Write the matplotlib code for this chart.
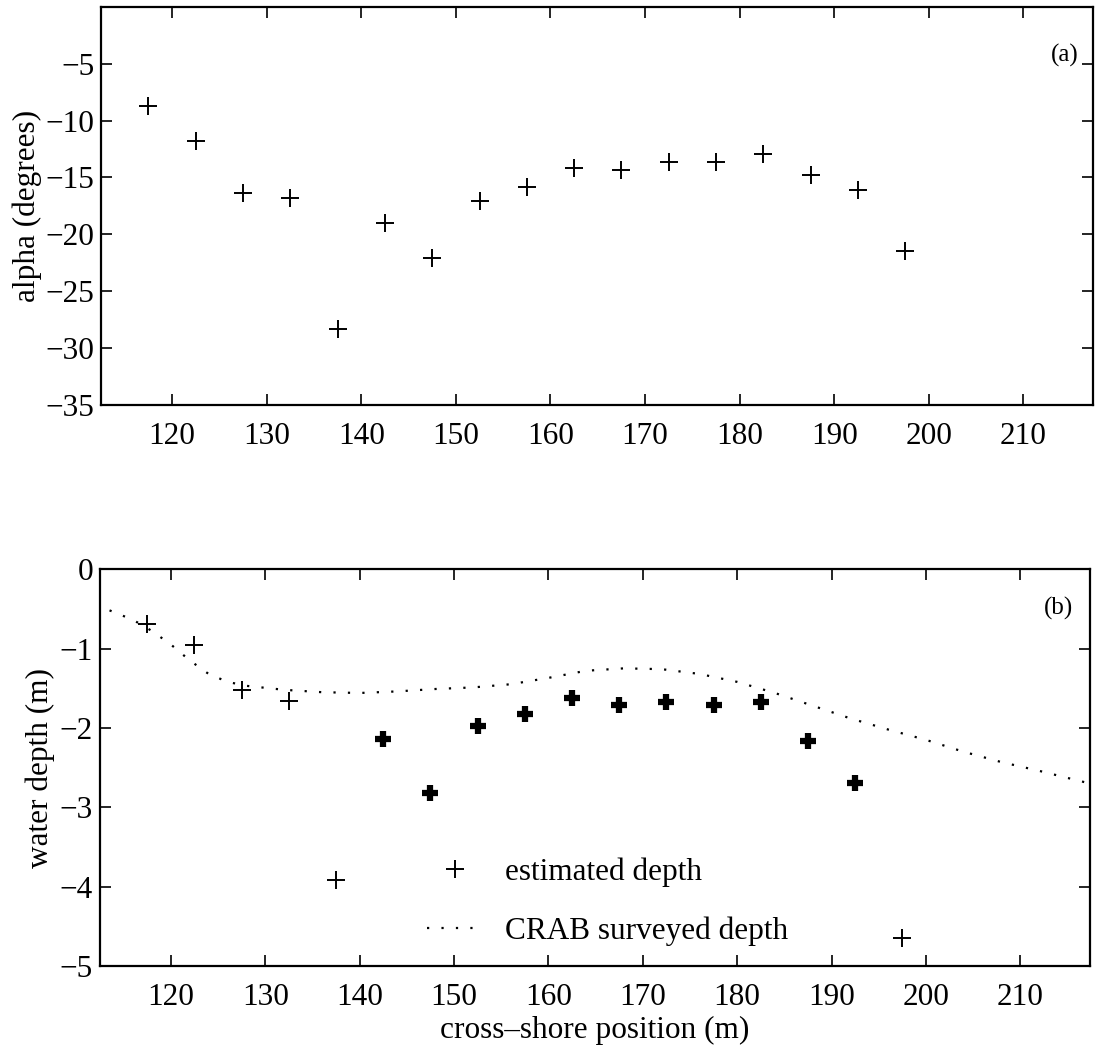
import matplotlib
matplotlib.use("Agg")
import matplotlib.pyplot as plt

# ==========================================
# data
# ==========================================
pos = [117.5, 122.5, 127.5, 132.5, 137.5, 142.5, 147.5, 152.5, 157.5,
       162.5, 167.5, 172.5, 177.5, 182.5, 187.5, 192.5, 197.5]

alpha = [-8.7, -11.8, -16.4, -16.8, -28.3, -19.0, -22.1, -17.1, -15.8,
         -14.2, -14.3, -13.6, -13.6, -12.9, -14.8, -16.1, -21.5]

depth = [-0.69, -0.96, -1.52, -1.66, -3.91, -2.14, -2.82, -1.97, -1.82,
         -1.62, -1.71, -1.67, -1.71, -1.67, -2.17, -2.69, -4.64]

# points drawn with the heavy marker in panel (b)
bold = [False, False, False, False, False, True, True, True, True,
        True, True, True, True, True, True, True, False]

survey_x = [113.5, 116, 118, 120, 122, 124, 126, 128, 132, 136, 140, 144,
            148, 152, 156, 160, 164, 168, 172, 176, 180, 184, 188, 192,
            196, 200, 204, 208, 212, 217.4]
survey_y = [-0.52, -0.64, -0.78, -0.95, -1.15, -1.32, -1.42, -1.47, -1.52,
            -1.55, -1.56, -1.54, -1.51, -1.49, -1.45, -1.37, -1.28, -1.25,
            -1.26, -1.32, -1.42, -1.56, -1.72, -1.88, -2.02, -2.15, -2.30,
            -2.43, -2.54, -2.70]

xticks = [120, 130, 140, 150, 160, 170, 180, 190, 200, 210]

# ==========================================
# style
# ==========================================
plt.rcParams["font.family"] = ["Liberation Serif", "DejaVu Serif"]
plt.rcParams["font.size"] = 22.5

fig = plt.figure(figsize=(11, 10.48), dpi=100)
ax1 = fig.add_axes([0.092, 0.6135, 0.902, 0.380])
ax2 = fig.add_axes([0.091, 0.078, 0.900, 0.379])

for ax in (ax1, ax2):
    ax.set_xlim(112.5, 217.4)
    ax.set_xticks(xticks)
    ax.tick_params(direction="in", top=True, right=True, length=8, width=1.2)
    ax.tick_params(axis="x", pad=12)
    ax.tick_params(axis="y", pad=5)
    for sp in ax.spines.values():
        sp.set_linewidth(1.6)

# ==========================================
# panel (a)
# ==========================================
ax1.plot(pos, alpha, linestyle="none", marker="+", color="black",
         markersize=13, markeredgewidth=1.4)
ax1.set_ylim(-35, 0)
ax1.set_yticks([-35, -30, -25, -20, -15, -10, -5])
ax1.set_ylabel("alpha (degrees)")
ax1.yaxis.set_label_coords(-0.060, 0.5)
ax1.text(215.8, -4.3, "(a)", fontsize=18, ha="right", va="center")

# ==========================================
# panel (b)
# ==========================================
thin_x = [p for p, b in zip(pos, bold) if not b]
thin_y = [d for d, b in zip(depth, bold) if not b]
bold_x = [p for p, b in zip(pos, bold) if b]
bold_y = [d for d, b in zip(depth, bold) if b]

ax2.plot(thin_x, thin_y, linestyle="none", marker="+", color="black",
         markersize=13, markeredgewidth=1.4, label="estimated depth")
ax2.plot(bold_x, bold_y, linestyle="none", marker="+", color="black",
         markersize=12, markeredgewidth=4.5)
ax2.plot(survey_x, survey_y, linestyle=(0, (1, 5.5)), color="black",
         linewidth=1.6, label="CRAB surveyed depth")

ax2.set_ylim(-5, 0)
ax2.set_yticks([-5, -4, -3, -2, -1, 0])
ax2.set_ylabel("water depth (m)")
ax2.yaxis.set_label_coords(-0.046, 0.5)
ax2.set_xlabel("cross\u2013shore position (m)", labelpad=3)
ax2.text(215.6, -0.49, "(b)", fontsize=18, ha="right", va="center")

ax2.legend(loc="lower left", bbox_to_anchor=(0.33, 0.05), frameon=False,
           borderpad=0, borderaxespad=0, handlelength=1.8, handletextpad=0.7,
           labelspacing=0.95, fontsize=22.5)

plt.savefig("out.png", dpi=100)
